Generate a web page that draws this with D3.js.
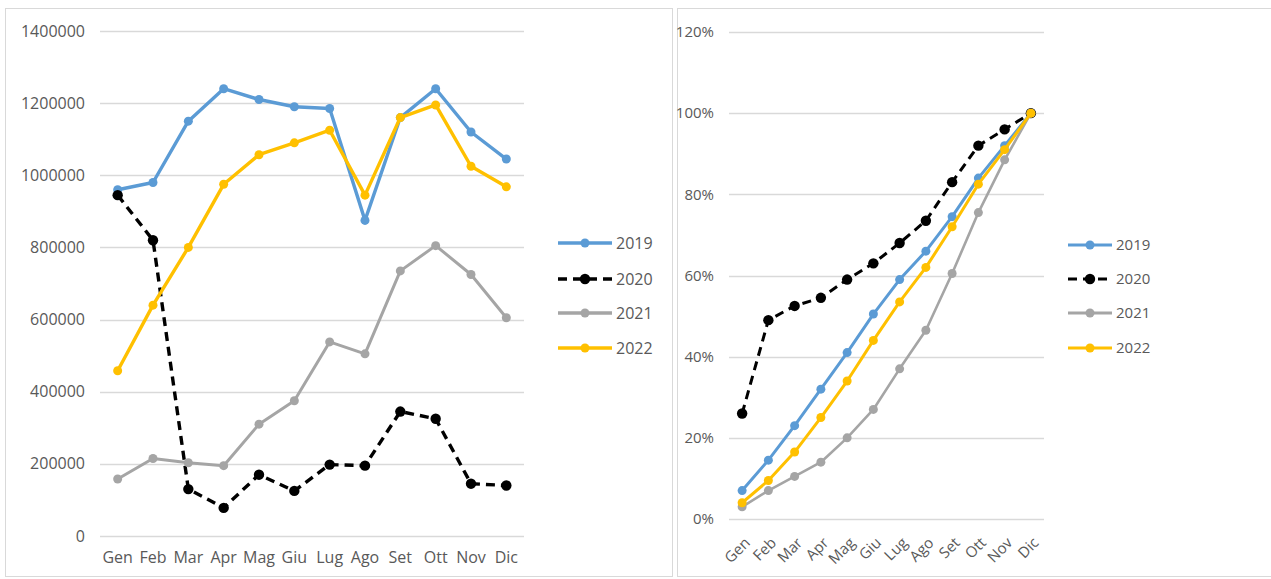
<!DOCTYPE html>
<html><head><meta charset="utf-8">
<script src="https://cdn.jsdelivr.net/npm/d3@7"></script>
<style>
body{margin:0;background:#fff;}
svg text{font-family:"Open Sans",sans-serif;fill:#595959;}
</style></head>
<body>
<svg id="c" width="1271" height="579"></svg>
<script>
const months = ["Gen","Feb","Mar","Apr","Mag","Giu","Lug","Ago","Set","Ott","Nov","Dic"];
const years = ["2019","2020","2021","2022"];
const colors = ["#5b9bd5","#000000","#a5a5a5","#ffc000"];
const absTicks = [0,200000,400000,600000,800000,1000000,1200000,1400000];
const pctTicks = [0,0.2,0.4,0.6,0.8,1.0,1.2];

const v2019 = [960000,980000,1150000,1240000,1210000,1190000,1185000,875000,1160000,1240000,1120000,1045000];
const v2020 = [945000,820000,130000,78000,170000,125000,198000,195000,345000,325000,145000,140000];
const v2021 = [158000,215000,203000,195000,310000,375000,538000,505000,735000,805000,725000,605000];
const v2022 = [458000,640000,800000,975000,1057000,1090000,1125000,945000,1160000,1195000,1025000,968000];

const c2019 = [0.07,0.145,0.23,0.32,0.41,0.505,0.59,0.66,0.745,0.84,0.92,1.0];
const c2020 = [0.26,0.49,0.525,0.545,0.59,0.63,0.68,0.735,0.83,0.92,0.96,1.0];
const c2021 = [0.03,0.07,0.105,0.14,0.20,0.27,0.37,0.465,0.605,0.755,0.885,1.0];
const c2022 = [0.04,0.095,0.165,0.25,0.34,0.44,0.535,0.62,0.72,0.825,0.91,1.0];

const svg = d3.select("#c");

// panel frames
svg.append("rect").attr("x",5.5).attr("y",8.5).attr("width",667).attr("height",568)
  .attr("fill","#fff").attr("stroke","#d9d9d9");
svg.append("rect").attr("x",677.5).attr("y",8.5).attr("width",600).attr("height",568)
  .attr("fill","#fff").attr("stroke","#d9d9d9");

function panel(opt){
  const g = svg.append("g");
  const fs = opt.fs;
  const x = d3.scaleBand().domain(months).range([opt.x0,opt.x1]);
  const y = d3.scaleLinear().domain([0,opt.max]).range([opt.y0,opt.y1]);
  // grid
  g.selectAll(".grid").data(opt.ticks).join("line")
    .attr("x1",opt.x0).attr("x2",opt.x1)
    .attr("y1",d=>Math.round(y(d))+0.5).attr("y2",d=>Math.round(y(d))+0.5)
    .attr("stroke","#d9d9d9").attr("stroke-width",1.3);
  // y axis labels
  const ya = g.append("g").attr("transform",`translate(${opt.x0-15},0)`)
    .call(d3.axisLeft(y).tickValues(opt.ticks).tickFormat(opt.fmt).tickSize(0).tickPadding(0));
  ya.select(".domain").remove();
  ya.selectAll("text").attr("font-size",fs).attr("fill","#595959").style("font-family","'Open Sans',sans-serif");
  // x axis labels
  const xa = g.append("g").attr("transform",`translate(0,${opt.y0})`)
    .call(d3.axisBottom(x).tickSize(0).tickPadding(opt.rotate?10:16));
  xa.select(".domain").remove();
  xa.selectAll("text").attr("font-size",fs).attr("fill","#595959").style("font-family","'Open Sans',sans-serif");
  if(opt.rotate){
    xa.selectAll("text").attr("text-anchor","end").attr("dy","0.35em")
      .attr("transform","translate(-2,14) rotate(-45)");
  }
  // series
  const line = d3.line().x((d,i)=>x(months[i])+x.bandwidth()/2).y(d=>y(d));
  opt.series.forEach((s,k)=>{
    const sg = g.append("g");
    sg.append("path").datum(s).attr("d",line).attr("fill","none")
      .attr("stroke",colors[k]).attr("stroke-width",k===2?opt.lw-0.4:opt.lw)
      .attr("stroke-dasharray",k===1?"9,6":null)
      .attr("stroke-linejoin","round");
    sg.selectAll("circle").data(s).join("circle")
      .attr("cx",(d,i)=>x(months[i])+x.bandwidth()/2).attr("cy",d=>y(d))
      .attr("r",k===1?5.2:4.5).attr("fill",colors[k]);
  });
  // legend
  const lg = g.append("g");
  years.forEach((yr,k)=>{
    const ly = opt.legY[k];
    lg.append("line").attr("x1",opt.legX).attr("x2",opt.legX+opt.legW).attr("y1",ly).attr("y2",ly)
      .attr("stroke",colors[k]).attr("stroke-width",opt.lw).attr("stroke-dasharray",k===1?"9,6":null);
    lg.append("circle").attr("cx",opt.legX+opt.legW/2).attr("cy",ly).attr("r",k===1?5.2:4.5).attr("fill",colors[k]);
    lg.append("text").attr("x",opt.legX+opt.legW+4).attr("y",ly).attr("dy","0.35em")
      .attr("font-size",fs).text(yr);
  });
}

panel({x0:100,x1:524,y0:536,y1:31,max:1400000,ticks:absTicks,fmt:d3.format("d"),fs:16,lw:3.4,
  series:[v2019,v2020,v2021,v2022],legX:558,legW:54,legY:[243,279,313,348],rotate:false});

panel({x0:729,x1:1044,y0:519,y1:32,max:1.2,ticks:pctTicks,fmt:d3.format(".0%"),fs:15,lw:3,
  series:[c2019,c2020,c2021,c2022],legX:1068,legW:44,legY:[245,279,313,348],rotate:true});
</script>
</body></html>
